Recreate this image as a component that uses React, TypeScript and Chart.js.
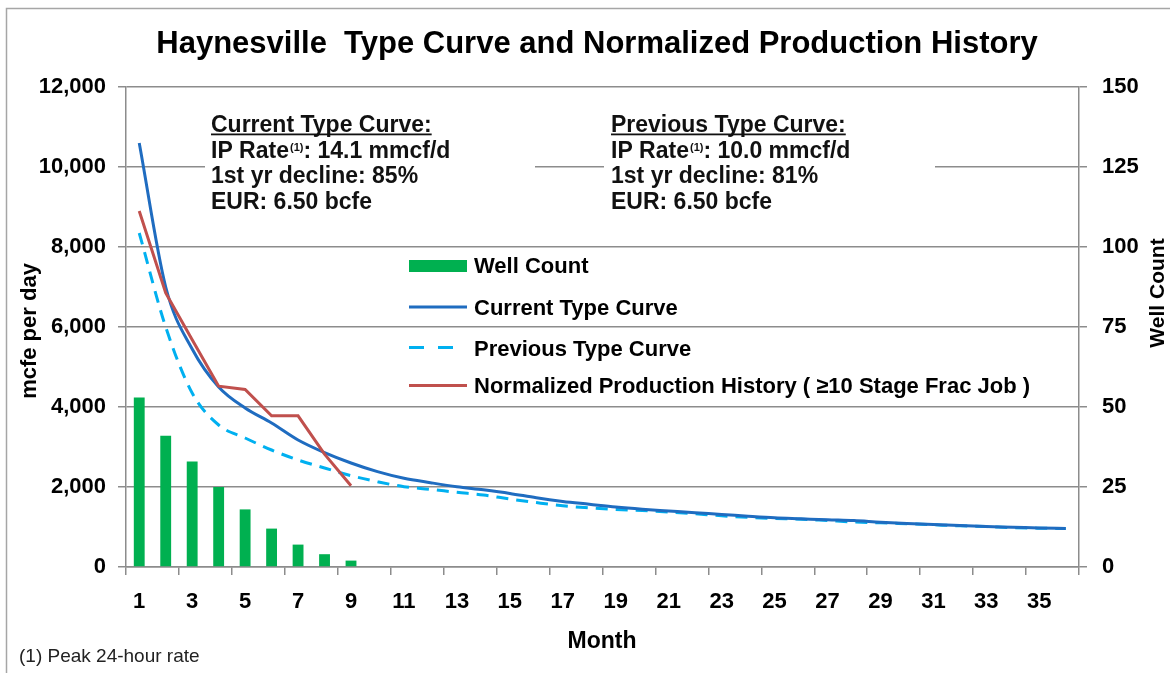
import { useEffect, useRef } from 'react';
import { Chart, registerables } from 'chart.js';

Chart.register(...registerables);

// ---------- data ----------
const months = ['1', '2', '3', '4', '5', '6', '7', '8', '9', '10', '11', '12', '13', '14', '15', '16', '17', '18',
  '19', '20', '21', '22', '23', '24', '25', '26', '27', '28', '29', '30', '31', '32', '33', '34', '35', '36'];

const wellCount = [53, 41, 33, 25, 18, 12, 7, 4, 2];

const currentTypeCurve = [10600, 7000, 5450, 4500, 3975, 3600, 3175, 2860, 2600, 2383, 2217, 2108, 2008, 1930,
  1840, 1730, 1640, 1570, 1500, 1445, 1400, 1355, 1315, 1270, 1230, 1205, 1180, 1160, 1120, 1090, 1065, 1035,
  1010, 995, 975, 965];

const previousTypeCurve = [8350, 6000, 4350, 3550, 3225, 2925, 2675, 2475, 2283, 2133, 2008, 1942, 1867, 1800,
  1700, 1610, 1530, 1480, 1440, 1410, 1375, 1330, 1280, 1240, 1215, 1195, 1160, 1125, 1105, 1080, 1055, 1030,
  1010, 985, 970, 960];

const normalizedHistory = [8900, 6850, 5680, 4520, 4440, 3780, 3780, 2820, 2030];

const titleText = 'Haynesville  Type Curve and Normalized Production History';
const leftAxisTitle = 'mcfe per day';
const rightAxisTitle = 'Well Count';
const xAxisTitle = 'Month';
const footnote = '(1) Peak 24-hour rate';

const seriesNames = ['Well Count', 'Current Type Curve', 'Previous Type Curve',
  'Normalized Production History ( \u226510 Stage Frac Job )'];

const currentBlock = ['Current Type Curve:', 'IP Rate', ': 14.1 mmcf/d', '1st yr decline: 85%', 'EUR: 6.50 bcfe'];
const previousBlock = ['Previous Type Curve:', 'IP Rate', ': 10.0 mmcf/d', '1st yr decline: 81%', 'EUR: 6.50 bcfe'];

// ---------- styles ----------
const FONT = '"Liberation Sans", Arial, sans-serif';
const GRID = '#8c8c8c';
const GREEN = '#00b050';
const BLUE = '#1f6cc0';
const LIGHTBLUE = '#00b0f0';
const RED = '#c0504d';

const overlayPlugin = {
  id: 'overlay',
  afterDraw(chart: any) {
    const ctx: CanvasRenderingContext2D = chart.ctx;
    ctx.save();

    // outer frame
    ctx.strokeStyle = '#a6a6a6';
    ctx.lineWidth = 1.5;
    ctx.strokeRect(6.5, 8.5, 1300, 800);

    // title
    ctx.fillStyle = '#000';
    ctx.font = `bold 31px ${FONT}`;
    ctx.textAlign = 'center';
    ctx.textBaseline = 'alphabetic';
    ctx.fillText(titleText, 597, 53, 889);

    // axis titles
    ctx.font = `bold 22px ${FONT}`;
    ctx.textBaseline = 'middle';
    ctx.save();
    ctx.translate(30, 331);
    ctx.rotate(-Math.PI / 2);
    ctx.fillText(leftAxisTitle, 0, 0);
    ctx.restore();

    ctx.font = `bold 21px ${FONT}`;
    ctx.save();
    ctx.translate(1158, 293);
    ctx.rotate(-Math.PI / 2);
    ctx.fillText(rightAxisTitle, 0, 0);
    ctx.restore();

    ctx.font = `bold 23px ${FONT}`;
    ctx.fillText(xAxisTitle, 602, 642);

    // footnote
    ctx.textAlign = 'left';
    ctx.font = `19px ${FONT}`;
    ctx.fillStyle = '#222';
    ctx.fillText(footnote, 19, 657);

    // annotation blocks (white boxes hide gridlines)
    const drawBlock = (lines: string[], x: number, boxX: number, boxW: number) => {
      ctx.fillStyle = '#fff';
      ctx.fillRect(boxX, 104, boxW, 112);
      ctx.fillStyle = '#111';
      ctx.textBaseline = 'alphabetic';
      ctx.textAlign = 'left';
      ctx.font = `bold 23px ${FONT}`;
      ctx.fillText(lines[0], x, 131.5);
      const w0 = ctx.measureText(lines[0]).width;
      ctx.fillRect(x, 133.5, w0, 1.8);
      ctx.fillText(lines[1], x, 157.5);
      const w1 = ctx.measureText(lines[1]).width;
      ctx.font = `bold 11px ${FONT}`;
      ctx.fillText('(1)', x + w1 + 1, 151);
      const ws = ctx.measureText('(1)').width;
      ctx.font = `bold 23px ${FONT}`;
      ctx.fillText(lines[2], x + w1 + ws + 1, 157.5);
      ctx.fillText(lines[3], x, 183);
      ctx.fillText(lines[4], x, 208.5);
    };
    drawBlock(currentBlock, 211, 205, 330);
    drawBlock(previousBlock, 611, 604, 331);

    // legend
    const lx1 = 409;
    const lx2 = 467;
    ctx.fillStyle = GREEN;
    ctx.fillRect(lx1, 260, lx2 - lx1, 12);
    ctx.lineWidth = 3;
    ctx.strokeStyle = BLUE;
    ctx.beginPath();
    ctx.moveTo(lx1, 307);
    ctx.lineTo(lx2, 307);
    ctx.stroke();
    ctx.strokeStyle = LIGHTBLUE;
    ctx.setLineDash([15, 14]);
    ctx.beginPath();
    ctx.moveTo(lx1, 347.5);
    ctx.lineTo(455, 347.5);
    ctx.stroke();
    ctx.setLineDash([]);
    ctx.strokeStyle = RED;
    ctx.beginPath();
    ctx.moveTo(lx1, 385.5);
    ctx.lineTo(lx2, 385.5);
    ctx.stroke();

    ctx.fillStyle = '#000';
    ctx.font = `bold 22px ${FONT}`;
    ctx.textBaseline = 'alphabetic';
    const baselines = [273, 315, 355.5, 393];
    const widths = [120, 214, 226, 572];
    seriesNames.forEach((s, i) => ctx.fillText(s, 474, baselines[i], widths[i]));

    ctx.restore();
  },
};

export default function App() {
  const canvasRef = useRef<HTMLCanvasElement | null>(null);

  useEffect(() => {
    if (!canvasRef.current) return;
    Chart.defaults.font.family = FONT;
    Chart.defaults.color = '#000';
    const chart = new Chart(canvasRef.current, {
      type: 'bar',
      data: {
        labels: months,
        datasets: [
          {
            type: 'line',
            label: seriesNames[3],
            data: normalizedHistory,
            borderColor: RED,
            borderWidth: 3,
            pointRadius: 0,
            tension: 0,
            yAxisID: 'y',
            order: 0,
          } as any,
          {
            type: 'line',
            label: seriesNames[1],
            data: currentTypeCurve,
            borderColor: BLUE,
            borderWidth: 3,
            pointRadius: 0,
            cubicInterpolationMode: 'monotone',
            yAxisID: 'y',
            order: 1,
          } as any,
          {
            type: 'line',
            label: seriesNames[2],
            data: previousTypeCurve,
            borderColor: LIGHTBLUE,
            borderWidth: 3,
            borderDash: [12, 8],
            pointRadius: 0,
            cubicInterpolationMode: 'monotone',
            yAxisID: 'y',
            order: 2,
          } as any,
          {
            type: 'bar',
            label: seriesNames[0],
            data: wellCount,
            backgroundColor: GREEN,
            barPercentage: 0.41,
            categoryPercentage: 1,
            yAxisID: 'y2',
            order: 3,
          } as any,
        ],
      },
      options: {
        responsive: false,
        animation: false,
        devicePixelRatio: 1,
        layout: { padding: { top: 87, left: 0, right: 0, bottom: 0 } },
        plugins: {
          legend: { display: false },
          tooltip: { enabled: false },
          title: { display: false },
        },
        scales: {
          x: {
            type: 'category',
            offset: true,
            grid: {
              offset: true,
              drawOnChartArea: false,
              drawTicks: true,
              tickLength: 8,
              lineWidth: 1.5,
              color: (c: any) => (c.index === undefined || c.index % 2 === 0 ? GRID : 'rgba(0,0,0,0)'),
            },
            border: { color: GRID, width: 1.5 },
            ticks: {
              autoSkip: false,
              maxRotation: 0,
              padding: 14,
              font: { size: 22, weight: 'bold' },
              color: '#000',
              callback: (_v: any, i: number) => (i % 2 === 0 ? months[i] : ''),
            },
            afterFit: (s: any) => {
              s.height = 106;
            },
          },
          y: {
            position: 'left',
            min: 0,
            max: 12000,
            grid: { color: GRID, lineWidth: 1.5, tickLength: 8 },
            border: { color: GRID, width: 1.5 },
            ticks: {
              stepSize: 2000,
              padding: 12,
              font: { size: 22, weight: 'bold' },
              color: '#000',
            },
            afterFit: (s: any) => {
              s.width = 126;
            },
          },
          y2: {
            position: 'right',
            min: 0,
            max: 150,
            grid: { drawOnChartArea: false, color: GRID, lineWidth: 1.5, tickLength: 8 },
            border: { color: GRID, width: 1.5 },
            ticks: {
              stepSize: 25,
              padding: 15,
              font: { size: 22, weight: 'bold' },
              color: '#000',
            },
            afterFit: (s: any) => {
              s.width = 91;
            },
          },
        },
      } as any,
      plugins: [overlayPlugin],
    });
    return () => chart.destroy();
  }, []);

  return (
    <div style={{ position: 'absolute', left: 0, top: 0, width: 1170, height: 673, background: '#fff' }}>
      <canvas ref={canvasRef} width={1170} height={673} style={{ display: 'block' }} />
    </div>
  );
}
